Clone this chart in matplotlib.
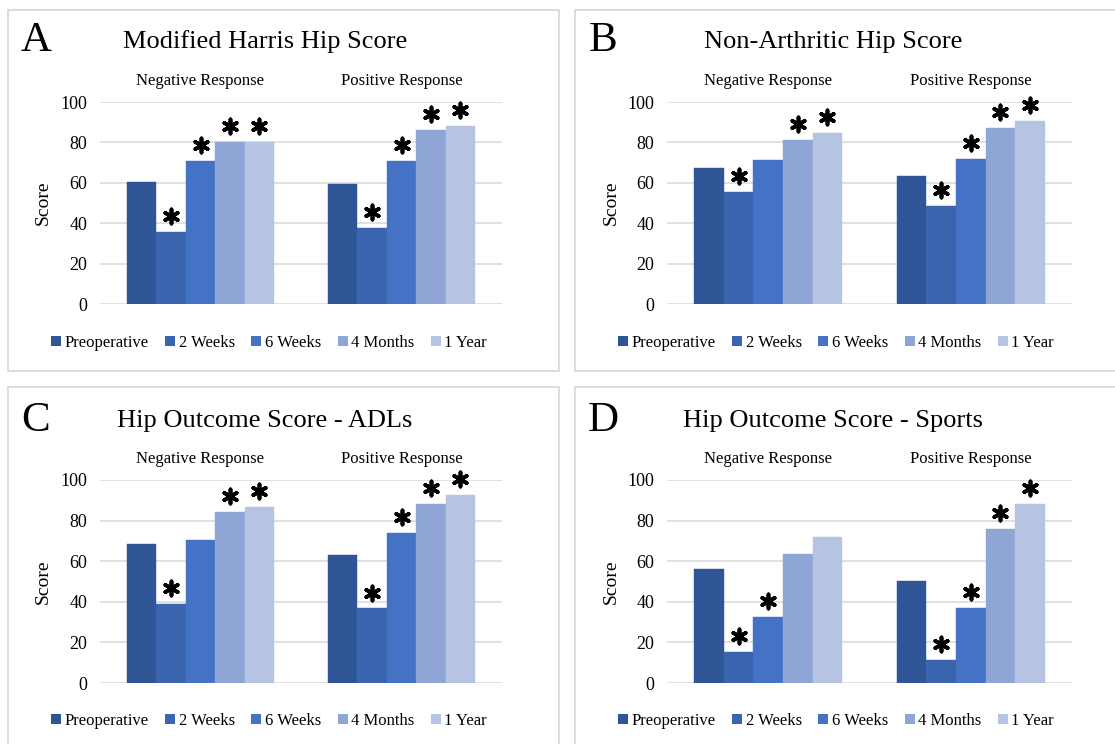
import matplotlib
matplotlib.use("Agg")
import matplotlib.pyplot as plt
import matplotlib.transforms as mtransforms
import numpy as np
from matplotlib.patches import Patch, Rectangle


W, H = 1115, 744

groups = ["Negative Response", "Positive Response"]
timepoints = ["Preoperative", "2 Weeks", "6 Weeks", "4 Months", "1 Year"]
colors = ["#2F5597", "#3A64AE", "#4472C4", "#8FA5D5", "#B6C3E2"]

# A - Modified Harris Hip Score
mhhs_neg = [60.5, 35.6, 70.8, 80.4, 80.4]
mhhs_pos = [59.6, 37.4, 71.0, 86.2, 88.0]
mhhs_sig_neg = [0, 1, 1, 1, 1]
mhhs_sig_pos = [0, 1, 1, 1, 1]

# B - Non-Arthritic Hip Score
nahs_neg = [67.5, 55.5, 71.2, 81.2, 84.7]
nahs_pos = [63.6, 48.3, 72.0, 87.1, 90.6]
nahs_sig_neg = [0, 1, 0, 1, 1]
nahs_sig_pos = [0, 1, 1, 1, 1]

# C - HOS ADLs
hos_adl_neg = [68.5, 38.7, 70.2, 84.2, 86.5]
hos_adl_pos = [63.3, 36.7, 73.8, 88.1, 92.6]
hos_adl_sig_neg = [0, 1, 0, 1, 1]
hos_adl_sig_pos = [0, 1, 1, 1, 1]

# D - HOS Sports
hos_sp_neg = [56.0, 15.5, 32.6, 63.4, 71.8]
hos_sp_pos = [50.1, 11.5, 37.1, 76.1, 88.0]
hos_sp_sig_neg = [0, 1, 1, 0, 0]
hos_sp_sig_pos = [0, 1, 1, 1, 1]

titles = ["Modified Harris Hip Score", "Non-Arthritic Hip Score",
          "Hip Outcome Score - ADLs", "Hip Outcome Score - Sports"]
letters = ["A", "B", "C", "D"]
yticks = [0, 20, 40, 60, 80, 100]

plt.rcParams["font.family"] = ["Liberation Serif", "DejaVu Serif"]

fig = plt.figure(figsize=(W / 100, H / 100), dpi=100)


def px_axes(l, t, r, b):
    return fig.add_axes([l / W, 1 - b / H, (r - l) / W, (b - t) / H])


def fx(x):
    return x / W


def fy(y):
    return 1 - y / H


# panel frames (left, top, right, bottom in pixels)
frames = [(8, 10, 559, 371), (575, 10, 1125, 371),
          (8, 387, 559, 754), (575, 387, 1125, 754)]
for l, t, r, b in frames:
    fig.patches.append(Rectangle((fx(l), fy(b)), fx(r - l), (b - t) / H,
                                 transform=fig.transFigure, fill=False,
                                 edgecolor="#D6D6D6", linewidth=1.2))

axes_px = [(100, 102, 502, 304), (667, 102, 1072, 304),
           (100, 480, 502, 683), (667, 480, 1072, 683)]
title_pos = [(265, 42), (833, 42), (265, 421), (833, 421)]
letter_pos = [(36, 41), (603, 41), (36, 421), (603, 421)]
ylabel_pos = [(43, 203), (611, 203), (43, 582), (611, 582)]
legend_pos = [(269, 343), (836, 343), (269, 721), (836, 721)]

panels = [
    (mhhs_neg, mhhs_pos, mhhs_sig_neg, mhhs_sig_pos),
    (nahs_neg, nahs_pos, nahs_sig_neg, nahs_sig_pos),
    (hos_adl_neg, hos_adl_pos, hos_adl_sig_neg, hos_adl_sig_pos),
    (hos_sp_neg, hos_sp_pos, hos_sp_sig_neg, hos_sp_sig_pos),
]

bw = 0.146
for k, (neg, pos, sneg, spos) in enumerate(panels):
    ax = px_axes(*axes_px[k])
    vals = np.array([neg, pos])
    sig = np.array([sneg, spos])
    # significance stars sit a fixed distance above the bar top
    star_tr = mtransforms.offset_copy(ax.transData, fig=fig, x=0, y=11.5,
                                      units="points")
    for j, tp in enumerate(timepoints):
        xs = np.arange(len(groups)) + 0.5 + (j - 2) * bw
        ax.bar(xs, vals[:, j], width=bw, color=colors[j], edgecolor=colors[j],
               linewidth=0.3, zorder=3)
        mask = sig[:, j] == 1
        ax.scatter(xs[mask], vals[mask, j], marker=(6, 2, 0), s=105,
                   color="black", linewidths=2.7, transform=star_tr,
                   zorder=4, clip_on=False)
    ax.set_xlim(0, 2)
    ax.set_ylim(0, 100)
    ax.set_yticks(yticks)
    ax.set_xticks([])
    ax.tick_params(axis="y", length=0, pad=9, labelsize=13)
    ax.grid(axis="y", color="#D9D9D9", linewidth=1.1, zorder=0)
    for s in ax.spines.values():
        s.set_visible(False)
    ax.set_facecolor("none")
    for i, g in enumerate(groups):
        ax.text(i + 0.5, 1.104, g, transform=ax.get_xaxis_transform(),
                ha="center", va="center", fontsize=12)

    fig.text(fx(ylabel_pos[k][0]), fy(ylabel_pos[k][1]), "Score", rotation=90,
             ha="center", va="center", fontsize=14)
    fig.text(fx(title_pos[k][0]), fy(title_pos[k][1]), titles[k],
             ha="center", va="center", fontsize=19)
    fig.text(fx(letter_pos[k][0]), fy(letter_pos[k][1]), letters[k],
             ha="center", va="center", fontsize=31)

    handles = [Patch(facecolor=c, edgecolor="none") for c in colors]
    fig.legend(handles, timepoints, loc="center", ncol=5, frameon=False,
               bbox_to_anchor=(fx(legend_pos[k][0]), fy(legend_pos[k][1])),
               bbox_transform=fig.transFigure, fontsize=12,
               handlelength=0.6, handleheight=0.6, handletextpad=0.2,
               columnspacing=1.0, borderpad=0)

fig.savefig("out.png", dpi=100)
plt.close(fig)
